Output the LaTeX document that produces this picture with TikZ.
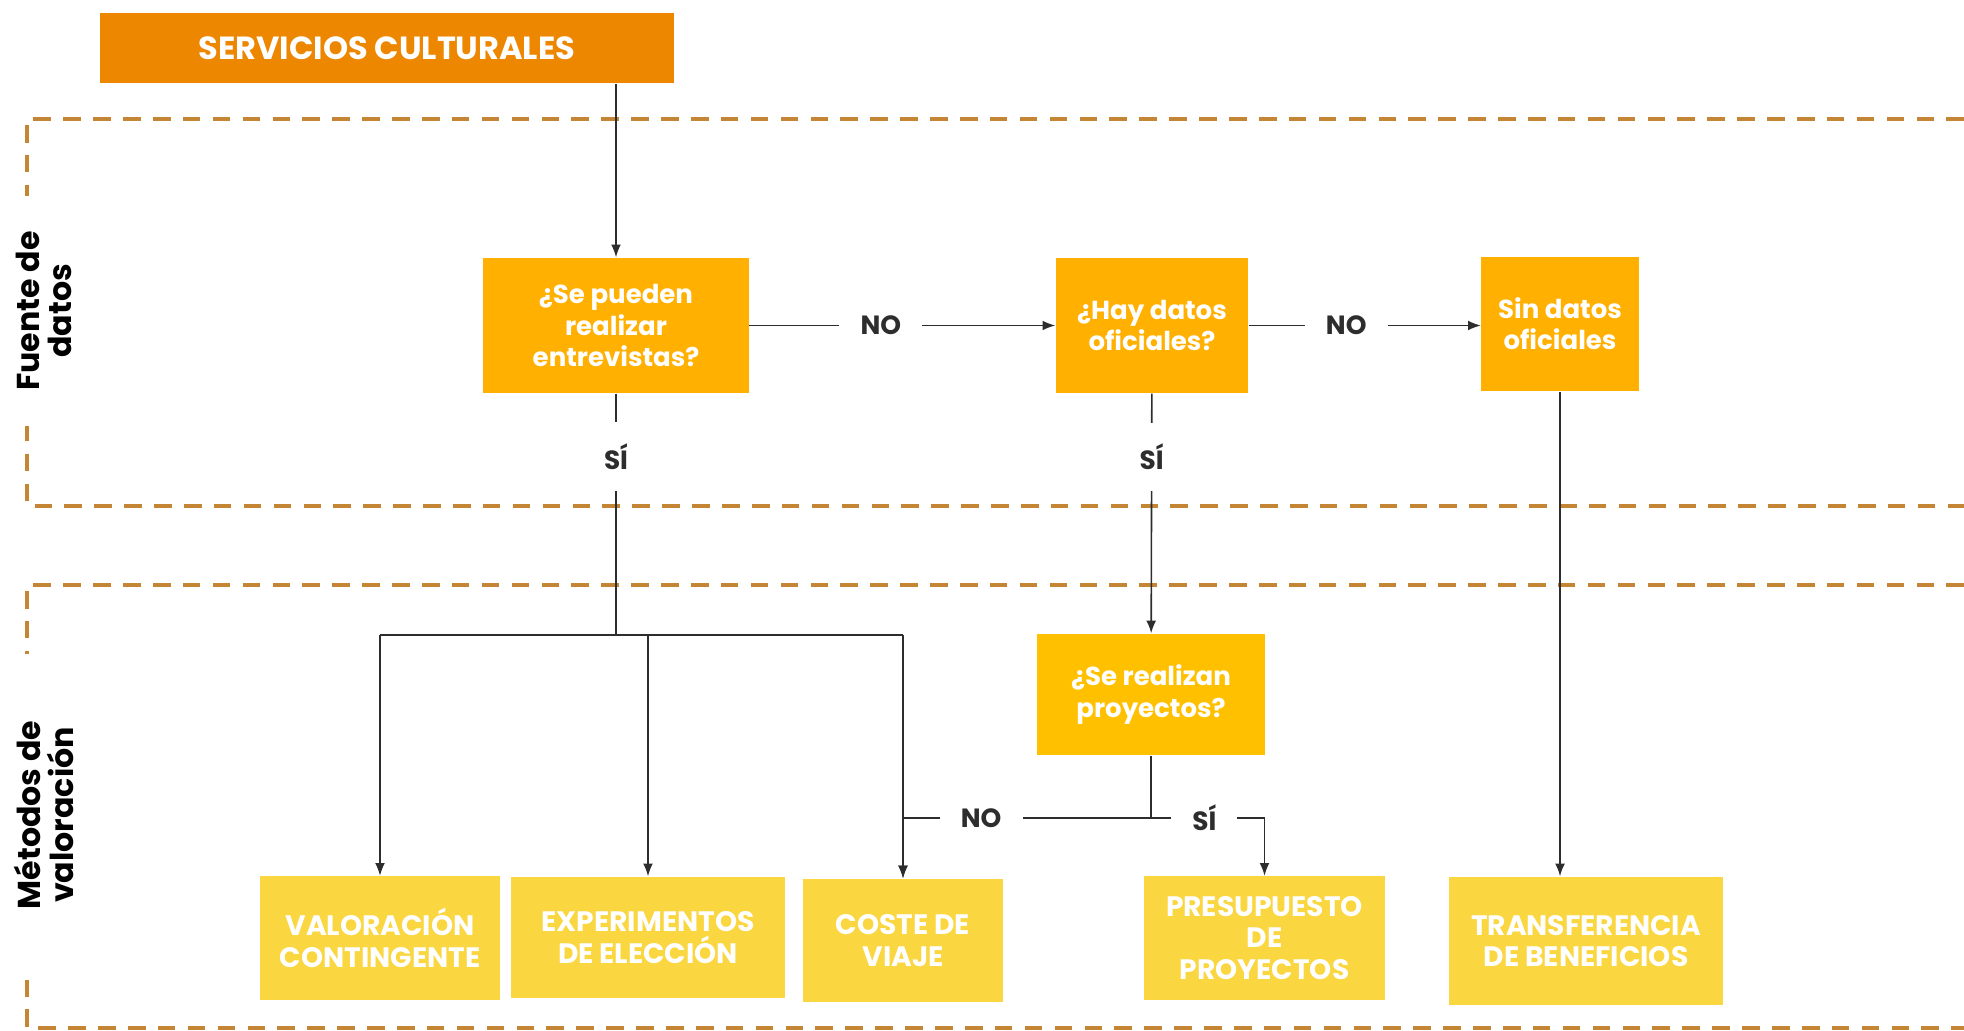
\documentclass[tikz,border=0pt]{standalone}
\usepackage{fontspec}
\setmainfont{Poppins}
\usepackage{tikz}
\usetikzlibrary{arrows.meta}
\definecolor{cuorange}{RGB}{238, 135, 0}
\definecolor{cuamber}{RGB}{255, 176, 0}
\definecolor{cugold}{RGB}{255, 192, 0}
\definecolor{cuyellow}{RGB}{250, 214, 64}
\definecolor{cudash}{RGB}{196, 134, 52}
\definecolor{culine}{RGB}{45, 45, 45}

\begin{document}
\begin{tikzpicture}[x=0.01cm, y=-0.01cm,
  box/.style={fill=#1, text=white, align=center, inner sep=0pt,
    font=\fontsize{7.4}{8.9}\selectfont\bfseries},
  method/.style={box=cuyellow, font=\fontsize{8}{8.9}\selectfont\bfseries},
  lbl/.style={fill=white, inner xsep=6pt, inner ysep=6pt,
    font=\fontsize{7.5}{9}\selectfont\bfseries},
  seg/.style={culine, line width=0.45pt},
  link/.style={seg, -{Latex[length=3.6pt,width=2.8pt]}},
  zone/.style={cudash, line width=1.2pt, dash pattern=on 5pt off 3.5pt},
  side/.style={fill=white, rotate=90, align=center, inner ysep=2pt,
    font=\fontsize{9}{9.3}\selectfont\bfseries}]
\useasboundingbox (0,0) rectangle (1964,1031);

% Dashed zones
\draw[zone] (1964,119) -- (27,119) -- (27,506) -- (1964,506);
\draw[zone] (1964,585) -- (27,585) -- (27,1028) -- (1964,1028);
\node[side, inner xsep=10pt] (fuente) at (44,311) {Fuente de\\datos};
\node[side, inner xsep=19pt] (metodos) at (44,815) {Métodos de\\valoración};

% Source and questions
\node[box=cuorange, minimum width=5.74cm, minimum height=0.70cm,
  font=\fontsize{9.1}{9.5}\selectfont\bfseries] (serv) at (387,48) {SERVICIOS CULTURALES};
\node[box=cuamber, minimum width=2.65cm, minimum height=1.35cm] (q1) at (616,325.5) {¿Se pueden\\realizar\\entrevistas?};
\node[box=cuamber, minimum width=1.92cm, minimum height=1.35cm] (q2) at (1152,325.5) {¿Hay datos\\oficiales?};
\node[box=cuamber, minimum width=1.57cm, minimum height=1.34cm] (sin) at (1560,324) {Sin datos\\oficiales};
\node[box=cugold, minimum width=2.28cm, minimum height=1.21cm] (q3) at (1151,694.5) {¿Se realizan\\proyectos?};

% Methods
\node[method, minimum width=2.39cm, minimum height=1.23cm] (vc) at (380,938) {VALORACIÓN\\CONTINGENTE};
\node[method, minimum width=2.74cm, minimum height=1.21cm] (ee) at (648,937.5) {EXPERIMENTOS\\DE ELECCIÓN};
\node[method, minimum width=2.00cm, minimum height=1.23cm] (cv) at (903,940.5) {COSTE DE\\VIAJE};
\node[method, minimum width=2.41cm, minimum height=1.23cm] (pp) at (1264.5,938) {PRESUPUESTO\\DE\\PROYECTOS};
\node[method, minimum width=2.73cm, minimum height=1.28cm] (tb) at (1586,941) {TRANSFERENCIA\\DE BENEFICIOS};

% Top row
\draw[link] (serv.south -| q1.north) -- (q1.north);
\draw[link] (q1) -- node[lbl, pos=0.43] {NO} (q2);
\draw[link] (q2.east) -- node[lbl, pos=0.42] {NO} (q2.east -| sin.west);

% Interviews branch
\coordinate (fork) at (616,635);
\draw[seg] (q1) -- node[lbl, pos=0.26] {SÍ} (fork);
\draw[seg] (fork -| vc) -- (fork -| cv);
\draw[link] (fork -| vc) -- (vc);
\draw[link] (fork -| ee) -- (ee);
\draw[link] (fork -| cv) -- (cv);

% Official data branch
\draw[link] (q2) -- node[lbl, pos=0.265] {SÍ} (q3);
\coordinate (split) at (1151,818);
\draw[seg] (q3) -- (split);
\draw[link] (split) -- node[lbl, pos=0.685] {NO} (split -| cv) -- (cv);
\draw[link] (split) -- node[lbl, pos=0.47] {SÍ} (split -| pp) -- (pp);
\draw[link] (sin) -- (sin.south |- tb.north);
\end{tikzpicture}
\end{document}
